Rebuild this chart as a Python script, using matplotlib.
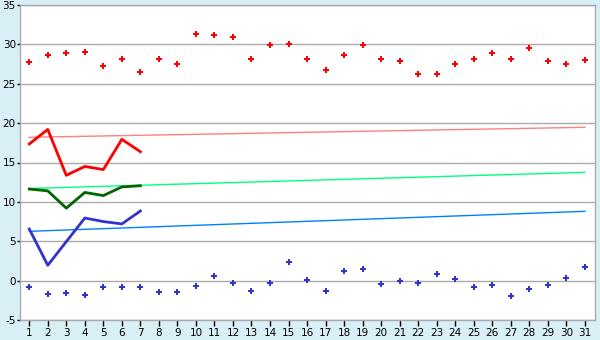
import matplotlib
matplotlib.use("Agg")
import matplotlib.pyplot as plt
import numpy as np

days = list(range(1, 32))
max_temp = [27.7, 28.7, 28.85, 29.0, 27.3, 28.1, 26.55, 28.1, 27.45, 31.27,
            31.14, 31.0, 28.1, 29.87, 30.0, 28.2, 26.7, 28.7, 29.87, 28.2,
            27.83, 26.3, 26.18, 27.45, 28.2, 28.85, 28.1, 29.5, 27.83, 27.45, 27.96]
min_temp = [-0.76, -1.7, -1.52, -1.77, -0.85, -0.76, -0.76, -1.4, -1.4, -0.63,
            0.63, -0.25, -1.27, -0.25, 2.4, 0.13, -1.27, 1.27, 1.52, -0.38,
            0.0, -0.25, 0.89, 0.25, -0.76, -0.5, -1.9, -1.0, -0.5, 0.38, 1.77]

line_days = [1, 2, 3, 4, 5, 6, 7]
red_line = [17.35, 19.2, 13.37, 14.5, 14.1, 17.94, 16.37]
green_line = [11.63, 11.4, 9.2, 11.2, 10.8, 11.9, 12.05]
blue_line = [6.56, 1.95, 4.95, 7.95, 7.5, 7.2, 8.84]

trend_days = [1, 31]
red_trend = [18.2, 19.47]
green_trend = [11.7, 13.75]
blue_trend = [6.26, 8.8]

y_ticks = [-5, 0, 5, 10, 15, 20, 25, 30, 35]

bg = "#d9eff6"
fig = plt.figure(figsize=(6, 3.4), dpi=100, facecolor=bg)
ax = fig.add_axes([20/600, 20/340, 575/600, 315/340])
ax.set_facecolor("white")

ax.set_xlim(0.5, 31.55)
ax.set_ylim(-5, 35)
ax.set_yticks(y_ticks)
ax.set_yticklabels([str(v) for v in y_ticks])
ax.set_xticks(days)
ax.grid(axis="y", color="#aaaaaa", linewidth=1)
ax.set_axisbelow(True)
for s in ax.spines.values():
    s.set_color("#aaaaaa")
    s.set_linewidth(1)
ax.tick_params(axis="both", colors="#000000", labelsize=7.5, width=1)
ax.tick_params(axis="x", length=4, pad=2)
ax.tick_params(axis="y", length=2, pad=1)

ax.plot(trend_days, red_trend, color="#ff8080", linewidth=1)
ax.plot(trend_days, green_trend, color="#00ff80", linewidth=1)
ax.plot(trend_days, blue_trend, color="#0080ff", linewidth=1)

ax.plot(line_days, red_line, color="#ff0000", linewidth=2)
ax.plot(line_days, green_line, color="#006600", linewidth=2)
ax.plot(line_days, blue_line, color="#3333cc", linewidth=2)

ax.scatter(days, max_temp, marker="P", s=18, color="#ff0000", linewidths=0, zorder=3)
ax.scatter(days, min_temp, marker="P", s=18, color="#3333cc", linewidths=0, zorder=3)

fig.savefig("out.png", dpi=100, facecolor=bg)
